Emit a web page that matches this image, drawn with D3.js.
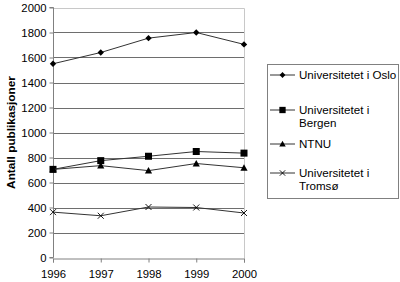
<!DOCTYPE html>
<html>
<head>
<meta charset="utf-8">
<script src="https://cdn.jsdelivr.net/npm/d3@7"></script>
<style>
  body { margin: 0; background: #fff; }
  text { font-family: "Liberation Sans", Arial, sans-serif; }
</style>
</head>
<body>
<script>
const years = [1996, 1997, 1998, 1999, 2000];
const yTicks = [0, 200, 400, 600, 800, 1000, 1200, 1400, 1600, 1800, 2000];

const oslo = [1550, 1640, 1755, 1800, 1705];
const bergen = [705, 775, 810, 848, 835];
const ntnu = [705, 735, 695, 752, 718];
const tromso = [363, 334, 404, 400, 356];

const seriesNames = ["Universitetet i Oslo", "Universitetet i Bergen", "NTNU", "Universitetet i Tromsø"];
const seriesValues = [oslo, bergen, ntnu, tromso];
const markers = ["diamond", "square", "triangle", "cross"];

const width = 400, height = 282;
const margin = { left: 53, right: 156, top: 7.5, bottom: 24.5 };

const svg = d3.select("body").append("svg")
    .attr("width", width)
    .attr("height", height);

const x = d3.scalePoint()
    .domain(years)
    .range([margin.left, width - margin.right]);

const y = d3.scaleLinear()
    .domain([0, 2000])
    .range([height - margin.bottom, margin.top]);

// Gridlines
svg.append("g")
    .selectAll("line")
    .data(yTicks.filter(d => d > 0 && d < 2000))
    .join("line")
    .attr("x1", margin.left)
    .attr("x2", width - margin.right)
    .attr("y1", d => Math.round(y(d)) + 0.5)
    .attr("y2", d => Math.round(y(d)) + 0.5)
    .attr("stroke", "#6e6e6e")
    .attr("stroke-width", 1);

// Plot area border (top and right)
svg.append("path")
    .attr("d", `M${margin.left},${Math.round(y(2000)) + 0.5}H${Math.round(width - margin.right) + 0.5}V${Math.round(y(0))}`)
    .attr("fill", "none")
    .attr("stroke", "#c8c8c8");

// Y axis
const yAxis = svg.append("g")
    .attr("transform", `translate(${margin.left + 0.5},0)`)
    .call(d3.axisLeft(y).tickValues(yTicks).tickSize(4).tickPadding(3).tickFormat(d3.format("d")));

// X axis
const xAxis = svg.append("g")
    .attr("transform", `translate(0,${Math.round(y(0)) + 0.5})`)
    .call(d3.axisBottom(x).tickSize(4).tickPadding(7).tickFormat(d3.format("d")));

[yAxis, xAxis].forEach(a => {
    a.select(".domain").attr("stroke", "#808080");
    a.selectAll(".tick line").attr("stroke", "#808080");
    a.selectAll("text")
        .attr("fill", "#000")
        .style("font-family", "'Liberation Sans', Arial, sans-serif")
        .style("font-size", "11.3px");
});
yAxis.select(".domain").attr("d", `M-4,${y(2000)}H0V${y(0)}H-4`);

// Y axis title
svg.append("text")
    .attr("transform", `translate(15,${(y(0) + y(2000)) / 2}) rotate(-90)`)
    .attr("text-anchor", "middle")
    .attr("font-size", 11.8)
    .attr("font-weight", "bold")
    .text("Antall publikasjoner");

// Marker drawing
function drawMarker(g, type, size) {
    const s = size;
    if (type === "diamond") {
        g.append("path").attr("d", `M0,${-s}L${s},0L0,${s}L${-s},0Z`).attr("fill", "#000");
    } else if (type === "square") {
        g.append("rect").attr("x", -s).attr("y", -s).attr("width", 2 * s).attr("height", 2 * s).attr("fill", "#000");
    } else if (type === "triangle") {
        g.append("path").attr("d", `M0,${-s}L${s},${s * 0.8}L${-s},${s * 0.8}Z`).attr("fill", "#000");
    } else {
        g.append("path").attr("d", `M${-s},${-s}L${s},${s}M${-s},${s}L${s},${-s}`)
            .attr("stroke", "#000").attr("stroke-width", 0.9).attr("fill", "none");
    }
}
const markerSize = { diamond: 3.2, square: 3.5, triangle: 3.6, cross: 3 };

// Lines and markers
const line = d3.line()
    .x((d, i) => x(years[i]))
    .y(d => y(d));

seriesValues.forEach((vals, si) => {
    svg.append("path")
        .datum(vals)
        .attr("d", line)
        .attr("fill", "none")
        .attr("stroke", "#333")
        .attr("stroke-width", 1);
    vals.forEach((v, i) => {
        const g = svg.append("g").attr("transform", `translate(${x(years[i])},${y(v)})`);
        drawMarker(g, markers[si], markerSize[markers[si]]);
    });
});

// Legend
const legendX = 267.5, legendY = 64.5, legendW = 131, legendH = 134;
svg.append("rect")
    .attr("x", legendX).attr("y", legendY)
    .attr("width", legendW).attr("height", legendH)
    .attr("fill", "#fff").attr("stroke", "#808080");

const legendRows = [
    { y: 75, lines: ["Universitetet i Oslo"] },
    { y: 110, lines: ["Universitetet i", "Bergen"] },
    { y: 144, lines: ["NTNU"] },
    { y: 173, lines: ["Universitetet i", "Tromsø"] }
];

legendRows.forEach((row, i) => {
    const g = svg.append("g");
    g.append("line")
        .attr("x1", 270).attr("x2", 295)
        .attr("y1", row.y).attr("y2", row.y)
        .attr("stroke", "#333");
    const m = g.append("g").attr("transform", `translate(282.5,${row.y})`);
    drawMarker(m, markers[i], markerSize[markers[i]] * 0.9);
    const t = g.append("text")
        .attr("x", 299)
        .attr("y", row.y)
        .attr("font-size", 11.6);
    row.lines.forEach((l, j) => {
        t.append("tspan").attr("x", 299).attr("dy", j === 0 ? "0.35em" : "13").text(l);
    });
});
</script>
</body>
</html>
